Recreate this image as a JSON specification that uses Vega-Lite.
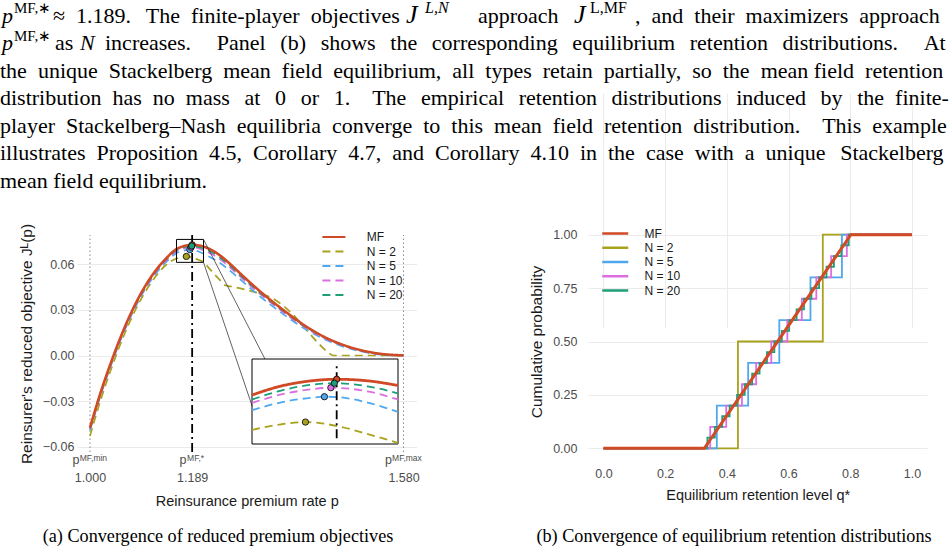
{
  "$schema": "https://vega.github.io/schema/vega-lite/v6.json",
  "width": 950,
  "height": 552,
  "autosize": {"type": "none"},
  "padding": 0,
  "background": "white",
  "config": {
    "view": {"stroke": null},
    "font": "Liberation Sans",
    "axis": {
      "labelFont": "Liberation Sans",
      "labelFontSize": 12.5,
      "labelColor": "#4D4D4D",
      "titleFont": "Liberation Sans",
      "titleFontSize": 14.5,
      "titleFontWeight": "normal",
      "titleColor": "#1A1A1A",
      "ticks": false,
      "tickSize": 0,
      "domain": false,
      "gridColor": "#EBEBEB",
      "gridWidth": 1,
      "labelFlush": false
    },
    "legend": {
      "labelFont": "Liberation Sans",
      "labelFontSize": 12,
      "labelColor": "#1A1A1A",
      "padding": 0
    }
  },
  "datasets": {
    "para": [
      {"line": 3, "text": "the\u2002unique\u2002Stackelberg\u2002mean\u2002field\u2002equilibrium,\u2002all\u2002types\u2002retain\u2002partially,\u2002so\u2002the\u2002mean field\u2002retention"},
      {"line": 4, "text": "distribution\u2002has\u2002no\u2002mass\u2002\u2006at\u2002\u20060\u2002\u2006or\u2002\u20061.\u2003The\u2002\u2006empirical\u2002\u2006retention\u2002\u2006distributions\u2002\u2006induced\u2002\u2006by\u2002\u2006the\u2002finite-"},
      {"line": 5, "text": "player\u2002Stackelberg–Nash\u2002equilibria\u2002converge\u2002to\u2002this\u2002mean\u2002field\u2002retention\u2002distribution.\u2003This\u2002example"},
      {"line": 6, "text": "illustrates\u2002Proposition\u20024.5,\u2002Corollary\u20024.7,\u2002and\u2002Corollary\u20024.10\u2002in\u2002the\u2002case\u2002with\u2002a\u2002unique\u2002\u2006Stackelberg"},
      {"line": 7, "text": "mean field equilibrium."}
    ],
    "ticksA": [
      {"p": 1.0, "sup": "MF,min"},
      {"p": 1.189, "sup": "MF,*"},
      {"p": 1.58, "sup": "MF,max"}
    ],
    "maxima": [
      {"s": "MF", "p": 1.189, "J": 0.0728},
      {"s": "N = 2", "p": 1.1783, "J": 0.0652},
      {"s": "N = 5", "p": 1.1848, "J": 0.0697},
      {"s": "N = 10", "p": 1.187, "J": 0.0713},
      {"s": "N = 20", "p": 1.1882, "J": 0.0721}
    ],
    "curves": [
      {"s": "MF", "p": 1.00, "J": -0.0475}, {"s": "MF", "p": 1.02, "J": -0.0240}, {"s": "MF", "p": 1.04, "J": -0.0035},
      {"s": "MF", "p": 1.06, "J": 0.0150}, {"s": "MF", "p": 1.08, "J": 0.0310}, {"s": "MF", "p": 1.10, "J": 0.0444},
      {"s": "MF", "p": 1.12, "J": 0.0552}, {"s": "MF", "p": 1.14, "J": 0.0636}, {"s": "MF", "p": 1.16, "J": 0.0700},
      {"s": "MF", "p": 1.17, "J": 0.0716}, {"s": "MF", "p": 1.18, "J": 0.0725}, {"s": "MF", "p": 1.189, "J": 0.0728},
      {"s": "MF", "p": 1.20, "J": 0.0725}, {"s": "MF", "p": 1.21, "J": 0.0717}, {"s": "MF", "p": 1.22, "J": 0.0703},
      {"s": "MF", "p": 1.24, "J": 0.0660}, {"s": "MF", "p": 1.26, "J": 0.0600}, {"s": "MF", "p": 1.28, "J": 0.0533},
      {"s": "MF", "p": 1.30, "J": 0.0468}, {"s": "MF", "p": 1.32, "J": 0.0406}, {"s": "MF", "p": 1.34, "J": 0.0348},
      {"s": "MF", "p": 1.36, "J": 0.0293}, {"s": "MF", "p": 1.38, "J": 0.0240}, {"s": "MF", "p": 1.40, "J": 0.0191},
      {"s": "MF", "p": 1.42, "J": 0.0148}, {"s": "MF", "p": 1.44, "J": 0.0111}, {"s": "MF", "p": 1.46, "J": 0.0081},
      {"s": "MF", "p": 1.48, "J": 0.0056}, {"s": "MF", "p": 1.50, "J": 0.0036}, {"s": "MF", "p": 1.52, "J": 0.0021},
      {"s": "MF", "p": 1.54, "J": 0.0010}, {"s": "MF", "p": 1.56, "J": 0.0004}, {"s": "MF", "p": 1.58, "J": 0.0001},

      {"s": "N = 2", "p": 1.00, "J": -0.0530}, {"s": "N = 2", "p": 1.02, "J": -0.0290}, {"s": "N = 2", "p": 1.04, "J": -0.0080},
      {"s": "N = 2", "p": 1.06, "J": 0.0108}, {"s": "N = 2", "p": 1.08, "J": 0.0270}, {"s": "N = 2", "p": 1.10, "J": 0.0405},
      {"s": "N = 2", "p": 1.12, "J": 0.0513}, {"s": "N = 2", "p": 1.14, "J": 0.0594}, {"s": "N = 2", "p": 1.16, "J": 0.0638},
      {"s": "N = 2", "p": 1.17, "J": 0.0648}, {"s": "N = 2", "p": 1.1783, "J": 0.0652}, {"s": "N = 2", "p": 1.19, "J": 0.0644},
      {"s": "N = 2", "p": 1.20, "J": 0.0630}, {"s": "N = 2", "p": 1.21, "J": 0.0615}, {"s": "N = 2", "p": 1.22, "J": 0.0575},
      {"s": "N = 2", "p": 1.23, "J": 0.0536}, {"s": "N = 2", "p": 1.24, "J": 0.0498}, {"s": "N = 2", "p": 1.25, "J": 0.0462},
      {"s": "N = 2", "p": 1.26, "J": 0.0455}, {"s": "N = 2", "p": 1.28, "J": 0.0440}, {"s": "N = 2", "p": 1.30, "J": 0.0422},
      {"s": "N = 2", "p": 1.32, "J": 0.0402}, {"s": "N = 2", "p": 1.34, "J": 0.0372}, {"s": "N = 2", "p": 1.36, "J": 0.0320},
      {"s": "N = 2", "p": 1.38, "J": 0.0253}, {"s": "N = 2", "p": 1.40, "J": 0.0170}, {"s": "N = 2", "p": 1.42, "J": 0.0090},
      {"s": "N = 2", "p": 1.44, "J": 0.0022}, {"s": "N = 2", "p": 1.45, "J": 0.0000}, {"s": "N = 2", "p": 1.48, "J": 0.0000},
      {"s": "N = 2", "p": 1.52, "J": 0.0000}, {"s": "N = 2", "p": 1.58, "J": 0.0000},

      {"s": "N = 5", "p": 1.00, "J": -0.0494}, {"s": "N = 5", "p": 1.02, "J": -0.0259}, {"s": "N = 5", "p": 1.04, "J": -0.0054},
      {"s": "N = 5", "p": 1.06, "J": 0.0131}, {"s": "N = 5", "p": 1.08, "J": 0.0290}, {"s": "N = 5", "p": 1.10, "J": 0.0424},
      {"s": "N = 5", "p": 1.12, "J": 0.0531}, {"s": "N = 5", "p": 1.14, "J": 0.0612}, {"s": "N = 5", "p": 1.16, "J": 0.0673},
      {"s": "N = 5", "p": 1.17, "J": 0.0687}, {"s": "N = 5", "p": 1.18, "J": 0.0695}, {"s": "N = 5", "p": 1.1848, "J": 0.0697},
      {"s": "N = 5", "p": 1.19, "J": 0.0696}, {"s": "N = 5", "p": 1.20, "J": 0.0686}, {"s": "N = 5", "p": 1.21, "J": 0.0670},
      {"s": "N = 5", "p": 1.22, "J": 0.0651}, {"s": "N = 5", "p": 1.24, "J": 0.0610}, {"s": "N = 5", "p": 1.26, "J": 0.0555},
      {"s": "N = 5", "p": 1.28, "J": 0.0494}, {"s": "N = 5", "p": 1.30, "J": 0.0432}, {"s": "N = 5", "p": 1.32, "J": 0.0373},
      {"s": "N = 5", "p": 1.34, "J": 0.0318}, {"s": "N = 5", "p": 1.36, "J": 0.0266}, {"s": "N = 5", "p": 1.38, "J": 0.0216},
      {"s": "N = 5", "p": 1.40, "J": 0.0171}, {"s": "N = 5", "p": 1.42, "J": 0.0131}, {"s": "N = 5", "p": 1.44, "J": 0.0097},
      {"s": "N = 5", "p": 1.46, "J": 0.0069}, {"s": "N = 5", "p": 1.48, "J": 0.0046}, {"s": "N = 5", "p": 1.50, "J": 0.0028},
      {"s": "N = 5", "p": 1.52, "J": 0.0014}, {"s": "N = 5", "p": 1.54, "J": 0.0005}, {"s": "N = 5", "p": 1.56, "J": 0.0000},
      {"s": "N = 5", "p": 1.58, "J": 0.0000},

      {"s": "N = 10", "p": 1.00, "J": -0.0487}, {"s": "N = 10", "p": 1.02, "J": -0.0252}, {"s": "N = 10", "p": 1.04, "J": -0.0047},
      {"s": "N = 10", "p": 1.06, "J": 0.0138}, {"s": "N = 10", "p": 1.08, "J": 0.0298}, {"s": "N = 10", "p": 1.10, "J": 0.0432},
      {"s": "N = 10", "p": 1.12, "J": 0.0540}, {"s": "N = 10", "p": 1.14, "J": 0.0622}, {"s": "N = 10", "p": 1.16, "J": 0.0686},
      {"s": "N = 10", "p": 1.17, "J": 0.0701}, {"s": "N = 10", "p": 1.18, "J": 0.0710}, {"s": "N = 10", "p": 1.187, "J": 0.0713},
      {"s": "N = 10", "p": 1.20, "J": 0.0706}, {"s": "N = 10", "p": 1.21, "J": 0.0692}, {"s": "N = 10", "p": 1.22, "J": 0.0677},
      {"s": "N = 10", "p": 1.24, "J": 0.0635}, {"s": "N = 10", "p": 1.26, "J": 0.0577}, {"s": "N = 10", "p": 1.28, "J": 0.0512},
      {"s": "N = 10", "p": 1.30, "J": 0.0449}, {"s": "N = 10", "p": 1.32, "J": 0.0389}, {"s": "N = 10", "p": 1.34, "J": 0.0333},
      {"s": "N = 10", "p": 1.36, "J": 0.0279}, {"s": "N = 10", "p": 1.38, "J": 0.0228}, {"s": "N = 10", "p": 1.40, "J": 0.0181},
      {"s": "N = 10", "p": 1.42, "J": 0.0139}, {"s": "N = 10", "p": 1.44, "J": 0.0104}, {"s": "N = 10", "p": 1.46, "J": 0.0075},
      {"s": "N = 10", "p": 1.48, "J": 0.0051}, {"s": "N = 10", "p": 1.50, "J": 0.0032}, {"s": "N = 10", "p": 1.52, "J": 0.0017},
      {"s": "N = 10", "p": 1.54, "J": 0.0007}, {"s": "N = 10", "p": 1.56, "J": 0.0001}, {"s": "N = 10", "p": 1.58, "J": 0.0000},

      {"s": "N = 20", "p": 1.00, "J": -0.0481}, {"s": "N = 20", "p": 1.02, "J": -0.0246}, {"s": "N = 20", "p": 1.04, "J": -0.0041},
      {"s": "N = 20", "p": 1.06, "J": 0.0144}, {"s": "N = 20", "p": 1.08, "J": 0.0304}, {"s": "N = 20", "p": 1.10, "J": 0.0438},
      {"s": "N = 20", "p": 1.12, "J": 0.0546}, {"s": "N = 20", "p": 1.14, "J": 0.0629}, {"s": "N = 20", "p": 1.16, "J": 0.0692},
      {"s": "N = 20", "p": 1.17, "J": 0.0708}, {"s": "N = 20", "p": 1.18, "J": 0.0718}, {"s": "N = 20", "p": 1.1882, "J": 0.0721},
      {"s": "N = 20", "p": 1.20, "J": 0.0715}, {"s": "N = 20", "p": 1.21, "J": 0.0703}, {"s": "N = 20", "p": 1.22, "J": 0.0689},
      {"s": "N = 20", "p": 1.24, "J": 0.0647}, {"s": "N = 20", "p": 1.26, "J": 0.0588}, {"s": "N = 20", "p": 1.28, "J": 0.0522},
      {"s": "N = 20", "p": 1.30, "J": 0.0458}, {"s": "N = 20", "p": 1.32, "J": 0.0397}, {"s": "N = 20", "p": 1.34, "J": 0.0340},
      {"s": "N = 20", "p": 1.36, "J": 0.0286}, {"s": "N = 20", "p": 1.38, "J": 0.0234}, {"s": "N = 20", "p": 1.40, "J": 0.0186},
      {"s": "N = 20", "p": 1.42, "J": 0.0144}, {"s": "N = 20", "p": 1.44, "J": 0.0108}, {"s": "N = 20", "p": 1.46, "J": 0.0078},
      {"s": "N = 20", "p": 1.48, "J": 0.0054}, {"s": "N = 20", "p": 1.50, "J": 0.0034}, {"s": "N = 20", "p": 1.52, "J": 0.0019},
      {"s": "N = 20", "p": 1.54, "J": 0.0008}, {"s": "N = 20", "p": 1.56, "J": 0.0002}, {"s": "N = 20", "p": 1.58, "J": 0.0000}
    ],
    "cdf": [
      {"s": "MF", "q": 0, "F": 0}, {"s": "MF", "q": 0.327, "F": 0}, {"s": "MF", "q": 0.802, "F": 1}, {"s": "MF", "q": 1, "F": 1},
      {"s": "N = 2", "q": 0, "F": 0}, {"s": "N = 2", "q": 0.436, "F": 0.5}, {"s": "N = 2", "q": 0.711, "F": 1}, {"s": "N = 2", "q": 1, "F": 1},
      {"s": "N = 5", "q": 0, "F": 0}, {"s": "N = 5", "q": 0.3675, "F": 0.2}, {"s": "N = 5", "q": 0.469, "F": 0.4},
      {"s": "N = 5", "q": 0.570, "F": 0.6}, {"s": "N = 5", "q": 0.671, "F": 0.8}, {"s": "N = 5", "q": 0.773, "F": 1}, {"s": "N = 5", "q": 1, "F": 1},
      {"s": "N = 10", "q": 0, "F": 0}, {"s": "N = 10", "q": 0.346, "F": 0.1}, {"s": "N = 10", "q": 0.398, "F": 0.2},
      {"s": "N = 10", "q": 0.449, "F": 0.3}, {"s": "N = 10", "q": 0.495, "F": 0.4}, {"s": "N = 10", "q": 0.544, "F": 0.5},
      {"s": "N = 10", "q": 0.596, "F": 0.6}, {"s": "N = 10", "q": 0.643, "F": 0.7}, {"s": "N = 10", "q": 0.690, "F": 0.8},
      {"s": "N = 10", "q": 0.738, "F": 0.9}, {"s": "N = 10", "q": 0.789, "F": 1}, {"s": "N = 10", "q": 1, "F": 1},
      {"s": "N = 20", "q": 0, "F": 0}, {"s": "N = 20", "q": 0.337, "F": 0.05}, {"s": "N = 20", "q": 0.361, "F": 0.1},
      {"s": "N = 20", "q": 0.385, "F": 0.15}, {"s": "N = 20", "q": 0.409, "F": 0.2}, {"s": "N = 20", "q": 0.433, "F": 0.25},
      {"s": "N = 20", "q": 0.458, "F": 0.3}, {"s": "N = 20", "q": 0.482, "F": 0.35}, {"s": "N = 20", "q": 0.506, "F": 0.4},
      {"s": "N = 20", "q": 0.530, "F": 0.45}, {"s": "N = 20", "q": 0.554, "F": 0.5}, {"s": "N = 20", "q": 0.578, "F": 0.55},
      {"s": "N = 20", "q": 0.602, "F": 0.6}, {"s": "N = 20", "q": 0.626, "F": 0.65}, {"s": "N = 20", "q": 0.650, "F": 0.7},
      {"s": "N = 20", "q": 0.674, "F": 0.75}, {"s": "N = 20", "q": 0.699, "F": 0.8}, {"s": "N = 20", "q": 0.723, "F": 0.85},
      {"s": "N = 20", "q": 0.747, "F": 0.9}, {"s": "N = 20", "q": 0.771, "F": 0.95}, {"s": "N = 20", "q": 0.795, "F": 1},
      {"s": "N = 20", "q": 1, "F": 1}
    ]
  },
  "layer": [
    {
      "description": "Paragraph above the figure, one row per text line",
      "data": {"name": "para"},
      "layer": [
        {
          "mark": {"type": "text", "align": "left", "baseline": "alphabetic", "font": "Liberation Serif", "fontSize": 22, "color": "black"},
          "encoding": {
            "x": {"datum": 0, "type": "quantitative", "scale": {"domain": [0, 950], "range": [0, 950], "nice": false, "zero": false}, "axis": null},
            "y": {"field": "line", "type": "quantitative", "scale": {"domain": [1, 7], "range": [22.5, 187.5], "nice": false, "zero": false}, "axis": null},
            "text": {"field": "text"}
          }
        },
        {
          "data": {"values": [{}]},
          "mark": {"type": "text", "align": "left", "baseline": "alphabetic", "font": "Liberation Serif", "fontSize": 22, "fontStyle": "italic", "color": "black"},
          "encoding": {"x": {"datum": 2, "type": "quantitative"}, "y": {"datum": 1, "type": "quantitative"}, "text": {"value": "p"}}
        },
        {
          "data": {"values": [{}]},
          "mark": {"type": "text", "align": "left", "baseline": "alphabetic", "font": "Liberation Serif", "fontSize": 15, "color": "black"},
          "encoding": {"x": {"datum": 14, "type": "quantitative"}, "y": {"datum": 0.67, "type": "quantitative"}, "text": {"value": "MF,∗"}}
        },
        {
          "data": {"values": [{}]},
          "mark": {"type": "text", "align": "left", "baseline": "alphabetic", "font": "Liberation Serif", "fontSize": 22, "color": "black"},
          "encoding": {"x": {"datum": 53, "type": "quantitative"}, "y": {"datum": 1, "type": "quantitative"}, "text": {"value": "≈\u20021.189.\u2002\u2006The\u2002finite-player\u2002objectives"}}
        },
        {
          "data": {"values": [{}]},
          "mark": {"type": "text", "align": "left", "baseline": "alphabetic", "font": "Liberation Serif", "fontSize": 26, "fontStyle": "italic", "color": "black"},
          "encoding": {"x": {"datum": 406, "type": "quantitative"}, "y": {"datum": 1, "type": "quantitative"}, "text": {"value": "J"}}
        },
        {
          "data": {"values": [{}]},
          "mark": {"type": "text", "align": "left", "baseline": "alphabetic", "font": "Liberation Serif", "fontSize": 16, "fontStyle": "italic", "color": "black"},
          "encoding": {"x": {"datum": 425, "type": "quantitative"}, "y": {"datum": 0.67, "type": "quantitative"}, "text": {"value": "L,N"}}
        },
        {
          "data": {"values": [{}]},
          "mark": {"type": "text", "align": "left", "baseline": "alphabetic", "font": "Liberation Serif", "fontSize": 22, "color": "black"},
          "encoding": {"x": {"datum": 478, "type": "quantitative"}, "y": {"datum": 1, "type": "quantitative"}, "text": {"value": "approach"}}
        },
        {
          "data": {"values": [{}]},
          "mark": {"type": "text", "align": "left", "baseline": "alphabetic", "font": "Liberation Serif", "fontSize": 26, "fontStyle": "italic", "color": "black"},
          "encoding": {"x": {"datum": 574, "type": "quantitative"}, "y": {"datum": 1, "type": "quantitative"}, "text": {"value": "J"}}
        },
        {
          "data": {"values": [{}]},
          "mark": {"type": "text", "align": "left", "baseline": "alphabetic", "font": "Liberation Serif", "fontSize": 16, "color": "black"},
          "encoding": {"x": {"datum": 590, "type": "quantitative"}, "y": {"datum": 0.67, "type": "quantitative"}, "text": {"value": "L,MF"}}
        },
        {
          "data": {"values": [{}]},
          "mark": {"type": "text", "align": "left", "baseline": "alphabetic", "font": "Liberation Serif", "fontSize": 22, "color": "black"},
          "encoding": {"x": {"datum": 635, "type": "quantitative"}, "y": {"datum": 1, "type": "quantitative"}, "text": {"value": ",\u2002and\u2002their\u2002maximizers\u2002approach"}}
        },
        {
          "data": {"values": [{}]},
          "mark": {"type": "text", "align": "left", "baseline": "alphabetic", "font": "Liberation Serif", "fontSize": 22, "fontStyle": "italic", "color": "black"},
          "encoding": {"x": {"datum": 2, "type": "quantitative"}, "y": {"datum": 2, "type": "quantitative"}, "text": {"value": "p"}}
        },
        {
          "data": {"values": [{}]},
          "mark": {"type": "text", "align": "left", "baseline": "alphabetic", "font": "Liberation Serif", "fontSize": 15, "color": "black"},
          "encoding": {"x": {"datum": 14, "type": "quantitative"}, "y": {"datum": 1.67, "type": "quantitative"}, "text": {"value": "MF,∗"}}
        },
        {
          "data": {"values": [{}]},
          "mark": {"type": "text", "align": "left", "baseline": "alphabetic", "font": "Liberation Serif", "fontSize": 22, "color": "black"},
          "encoding": {"x": {"datum": 55, "type": "quantitative"}, "y": {"datum": 2, "type": "quantitative"}, "text": {"value": "as"}}
        },
        {
          "data": {"values": [{}]},
          "mark": {"type": "text", "align": "left", "baseline": "alphabetic", "font": "Liberation Serif", "fontSize": 22, "fontStyle": "italic", "color": "black"},
          "encoding": {"x": {"datum": 80, "type": "quantitative"}, "y": {"datum": 2, "type": "quantitative"}, "text": {"value": "N"}}
        },
        {
          "data": {"values": [{}]},
          "mark": {"type": "text", "align": "left", "baseline": "alphabetic", "font": "Liberation Serif", "fontSize": 22, "color": "black"},
          "encoding": {"x": {"datum": 105, "type": "quantitative"}, "y": {"datum": 2, "type": "quantitative"}, "text": {"value": "increases.\u2003\u2006Panel\u2002\u2006(b)\u2002\u2006shows\u2002\u2006the\u2002\u2006corresponding\u2002\u2006equilibrium\u2002\u2006retention\u2002\u2006distributions.\u2003\u2006At"}}
        }
      ]
    },
    {
      "description": "Sub-figure captions",
      "data": {"values": [{}]},
      "layer": [
        {
          "mark": {"type": "text", "align": "center", "baseline": "alphabetic", "font": "Liberation Serif", "fontSize": 18.2, "color": "black"},
          "encoding": {
            "x": {"datum": 218, "type": "quantitative", "scale": {"domain": [0, 950], "range": [0, 950], "nice": false, "zero": false}, "axis": null},
            "y": {"datum": 542, "type": "quantitative", "scale": {"domain": [0, 552], "range": [0, 552], "nice": false, "zero": false}, "axis": null},
            "text": {"value": "(a) Convergence of reduced premium objectives"}
          }
        },
        {
          "mark": {"type": "text", "align": "center", "baseline": "alphabetic", "font": "Liberation Serif", "fontSize": 18.2, "color": "black"},
          "encoding": {
            "x": {"datum": 734, "type": "quantitative"},
            "y": {"datum": 542, "type": "quantitative"},
            "text": {"value": "(b) Convergence of equilibrium retention distributions"}
          }
        }
      ]
    },
    {
      "description": "Panel (a): reduced objective of the reinsurer against the premium rate",
      "layer": [
        {
          "data": {"name": "ticksA"},
          "transform": [{"filter": "datum.p != 1.189"}],
          "mark": {"type": "rule", "stroke": "#8A8A8A", "strokeWidth": 1, "strokeDash": [1.5, 2.5]},
          "encoding": {
            "x": {
              "field": "p", "type": "quantitative",
              "scale": {"domain": [0.976, 1.604], "range": [77, 416.5], "nice": false, "zero": false},
              "axis": {"orient": "bottom", "offset": -100, "values": [1, 1.189, 1.58], "format": ".3f", "grid": false, "labelPadding": 19, "title": "Reinsurance premium rate p", "titlePadding": 11}
            },
            "y": {
              "datum": -0.0635, "type": "quantitative",
              "scale": {"domain": [-0.0635, 0.0793], "range": [452, 235], "nice": false, "zero": false},
              "axis": {"orient": "left", "offset": -77, "values": [-0.06, -0.03, 0, 0.03, 0.06], "format": ".2f", "grid": true, "labelPadding": 3, "title": "Reinsurer's reduced objective Jᴸ(p)", "titleFontSize": 15.5, "titlePadding": 8}
            },
            "y2": {"datum": 0.0793}
          }
        },
        {
          "data": {"name": "ticksA"},
          "transform": [{"filter": "datum.p == 1.189"}],
          "mark": {"type": "rule", "stroke": "black", "strokeWidth": 1.8, "strokeDash": [9, 4, 2, 4]},
          "encoding": {
            "x": {"field": "p", "type": "quantitative"},
            "y": {"datum": -0.0635, "type": "quantitative"},
            "y2": {"datum": 0.0793}
          }
        },
        {
          "data": {"name": "curves"},
          "transform": [{"filter": "datum.s != 'MF'"}],
          "mark": {"type": "line", "interpolate": "monotone", "strokeWidth": 1.7},
          "encoding": {
            "x": {"field": "p", "type": "quantitative"},
            "y": {"field": "J", "type": "quantitative"},
            "color": {
              "field": "s", "type": "nominal",
              "scale": {"domain": ["MF", "N = 2", "N = 5", "N = 10", "N = 20"], "range": ["#D04A26", "#A8A21D", "#4FA8EE", "#DB6FDF", "#1E9E78"]},
              "legend": {"title": null, "orient": "none", "legendX": 327.4, "legendY": 230.5, "symbolType": "M-2.3,0H2.3", "symbolSize": 100, "symbolStrokeWidth": 2.2, "labelOffset": 26.4, "rowPadding": 1.5}
            },
            "strokeDash": {
              "field": "s", "type": "nominal",
              "scale": {"domain": ["MF", "N = 2", "N = 5", "N = 10", "N = 20"], "range": [[1, 0], [8, 5], [8, 5], [8, 5], [8, 5]]},
              "legend": {"title": null, "orient": "none", "legendX": 327.4, "legendY": 230.5, "symbolType": "M-2.3,0H2.3", "symbolSize": 100, "symbolStrokeWidth": 2.2, "labelOffset": 26.4, "rowPadding": 1.5}
            }
          }
        },
        {
          "data": {"name": "curves"},
          "transform": [{"filter": "datum.s == 'MF'"}],
          "mark": {"type": "line", "interpolate": "monotone", "strokeWidth": 2.6},
          "encoding": {
            "x": {"field": "p", "type": "quantitative"},
            "y": {"field": "J", "type": "quantitative"},
            "color": {"field": "s", "type": "nominal"},
            "strokeDash": {"field": "s", "type": "nominal"}
          }
        },
        {
          "data": {"name": "maxima"},
          "mark": {"type": "circle", "size": 40, "stroke": "black", "strokeWidth": 0.8, "opacity": 1},
          "encoding": {
            "x": {"field": "p", "type": "quantitative"},
            "y": {"field": "J", "type": "quantitative"},
            "fill": {
              "field": "s", "type": "nominal",
              "scale": {"domain": ["MF", "N = 2", "N = 5", "N = 10", "N = 20"], "range": ["#D04A26", "#A8A21D", "#4FA8EE", "#DB6FDF", "#1E9E78"]},
              "legend": null
            }
          }
        },
        {
          "data": {"values": [{}]},
          "mark": {"type": "rect", "fill": null, "fillOpacity": 0, "stroke": "black", "strokeWidth": 1},
          "encoding": {
            "x": {"datum": 1.16, "type": "quantitative"},
            "x2": {"datum": 1.21},
            "y": {"datum": 0.0613, "type": "quantitative"},
            "y2": {"datum": 0.0764}
          }
        },
        {
          "data": {"values": [{}]},
          "mark": {"type": "rule", "stroke": "#3A3A3A", "strokeWidth": 0.8},
          "encoding": {
            "x": {"datum": 1.21, "type": "quantitative"},
            "y": {"datum": 0.0764, "type": "quantitative"},
            "x2": {"datum": 1.3237},
            "y2": {"datum": -0.0023}
          }
        },
        {
          "data": {"values": [{}]},
          "mark": {"type": "rule", "stroke": "#3A3A3A", "strokeWidth": 0.8},
          "encoding": {
            "x": {"datum": 1.21, "type": "quantitative"},
            "y": {"datum": 0.0613, "type": "quantitative"},
            "x2": {"datum": 1.3237},
            "y2": {"datum": -0.0582}
          }
        },
        {
          "data": {"name": "ticksA"},
          "mark": {"type": "text", "align": "center", "baseline": "alphabetic", "dx": 3.4, "fontSize": 8.5, "font": "Liberation Sans", "color": "#4D4D4D"},
          "encoding": {
            "x": {"field": "p", "type": "quantitative"},
            "y": {"datum": -0.0692, "type": "quantitative"},
            "text": {"field": "sup"}
          }
        },
        {
          "data": {"name": "ticksA"},
          "transform": [{"filter": "datum.sup == 'MF,min'"}],
          "mark": {"type": "text", "align": "right", "baseline": "alphabetic", "dx": -10.6, "fontSize": 12.5, "font": "Liberation Sans", "color": "#4D4D4D"},
          "encoding": {"x": {"field": "p", "type": "quantitative"}, "y": {"datum": -0.0717, "type": "quantitative"}, "text": {"value": "p"}}
        },
        {
          "data": {"name": "ticksA"},
          "transform": [{"filter": "datum.sup == 'MF,*'"}],
          "mark": {"type": "text", "align": "right", "baseline": "alphabetic", "dx": -5.6, "fontSize": 12.5, "font": "Liberation Sans", "color": "#4D4D4D"},
          "encoding": {"x": {"field": "p", "type": "quantitative"}, "y": {"datum": -0.0717, "type": "quantitative"}, "text": {"value": "p"}}
        },
        {
          "data": {"name": "ticksA"},
          "transform": [{"filter": "datum.sup == 'MF,max'"}],
          "mark": {"type": "text", "align": "right", "baseline": "alphabetic", "dx": -11.5, "fontSize": 12.5, "font": "Liberation Sans", "color": "#4D4D4D"},
          "encoding": {"x": {"field": "p", "type": "quantitative"}, "y": {"datum": -0.0717, "type": "quantitative"}, "text": {"value": "p"}}
        }
      ]
    },
    {
      "description": "Panel (b): cumulative distributions of equilibrium retention",
      "data": {"name": "cdf"},
      "layer": [
        {
          "transform": [{"filter": "datum.s != 'MF'"}],
          "mark": {"type": "line", "interpolate": "step-after", "strokeWidth": 1.8},
          "encoding": {
            "x": {
              "field": "q", "type": "quantitative",
              "scale": {"domain": [-0.05, 1.05], "range": [588, 927.4], "nice": false, "zero": false},
              "axis": {"orient": "bottom", "offset": -93, "values": [0, 0.2, 0.4, 0.6, 0.8, 1], "format": ".1f", "grid": true, "labelPadding": 8, "title": "Equilibrium retention level q*", "titlePadding": 9}
            },
            "y": {
              "field": "F", "type": "quantitative",
              "scale": {"domain": [-0.05, 1.05], "range": [459, 224], "nice": false, "zero": false},
              "axis": {"orient": "left", "offset": -588, "values": [0, 0.25, 0.5, 0.75, 1], "format": ".2f", "grid": true, "labelPadding": 11, "title": "Cumulative probability", "titleFontSize": 15.5, "titlePadding": 8}
            },
            "color": {
              "field": "s", "type": "nominal",
              "scale": {"domain": ["MF", "N = 2", "N = 5", "N = 10", "N = 20"], "range": ["#D04A26", "#A8A21D", "#4FA8EE", "#DB6FDF", "#1E9E78"]},
              "legend": {"title": null, "orient": "none", "legendX": 608.75, "legendY": 227, "symbolType": "M-2.6,0H2.6", "symbolSize": 100, "symbolStrokeWidth": 2.5, "labelOffset": 22.75, "rowPadding": 1.25}
            }
          }
        },
        {
          "transform": [{"filter": "datum.s == 'MF'"}],
          "mark": {"type": "line", "strokeWidth": 3},
          "encoding": {
            "x": {"field": "q", "type": "quantitative"},
            "y": {"field": "F", "type": "quantitative"},
            "color": {"field": "s", "type": "nominal"}
          }
        }
      ]
    },
    {
      "description": "Magnified inset of panel (a) around the maximizers",
      "layer": [
        {
          "data": {"values": [{}]},
          "mark": {"type": "rect", "fill": "white", "stroke": "black", "strokeWidth": 1},
          "encoding": {
            "x": {"datum": 1.16, "type": "quantitative", "scale": {"domain": [1.16, 1.21], "range": [252, 398], "nice": false, "zero": false}, "axis": null},
            "x2": {"datum": 1.21},
            "y": {"datum": 0.0613, "type": "quantitative", "scale": {"domain": [0.0613, 0.0764], "range": [444, 359], "nice": false, "zero": false}, "axis": null},
            "y2": {"datum": 0.0764}
          }
        },
        {
          "data": {"name": "curves"},
          "transform": [{"filter": "datum.s != 'MF' && datum.p >= 1.16 && datum.p <= 1.21"}],
          "mark": {"type": "line", "interpolate": "monotone", "strokeWidth": 1.8},
          "encoding": {
            "x": {"field": "p", "type": "quantitative"},
            "y": {"field": "J", "type": "quantitative"},
            "color": {
              "field": "s", "type": "nominal",
              "scale": {"domain": ["MF", "N = 2", "N = 5", "N = 10", "N = 20"], "range": ["#D04A26", "#A8A21D", "#4FA8EE", "#DB6FDF", "#1E9E78"]},
              "legend": null
            },
            "strokeDash": {
              "field": "s", "type": "nominal",
              "scale": {"domain": ["MF", "N = 2", "N = 5", "N = 10", "N = 20"], "range": [[1, 0], [8, 5], [8, 5], [8, 5], [8, 5]]},
              "legend": null
            }
          }
        },
        {
          "data": {"name": "curves"},
          "transform": [{"filter": "datum.s == 'MF' && datum.p >= 1.16 && datum.p <= 1.21"}],
          "mark": {"type": "line", "interpolate": "monotone", "strokeWidth": 2.8},
          "encoding": {
            "x": {"field": "p", "type": "quantitative"},
            "y": {"field": "J", "type": "quantitative"},
            "color": {"field": "s", "type": "nominal"},
            "strokeDash": {"field": "s", "type": "nominal"}
          }
        },
        {
          "data": {"values": [{"p": 1.189}]},
          "mark": {"type": "rule", "stroke": "black", "strokeWidth": 1.8, "strokeDash": [9, 4, 2, 4]},
          "encoding": {
            "x": {"field": "p", "type": "quantitative"},
            "y": {"datum": 0.0623, "type": "quantitative"},
            "y2": {"datum": 0.0757}
          }
        },
        {
          "data": {"name": "maxima"},
          "mark": {"type": "circle", "size": 40, "stroke": "black", "strokeWidth": 0.8, "opacity": 1},
          "encoding": {
            "x": {"field": "p", "type": "quantitative"},
            "y": {"field": "J", "type": "quantitative"},
            "fill": {
              "field": "s", "type": "nominal",
              "scale": {"domain": ["MF", "N = 2", "N = 5", "N = 10", "N = 20"], "range": ["#D04A26", "#A8A21D", "#4FA8EE", "#DB6FDF", "#1E9E78"]},
              "legend": null
            }
          }
        }
      ]
    }
  ],
  "resolve": {
    "scale": {"x": "independent", "y": "independent", "color": "independent", "strokeDash": "independent", "fill": "independent"},
    "legend": {"color": "independent", "strokeDash": "independent", "fill": "independent"}
  }
}
